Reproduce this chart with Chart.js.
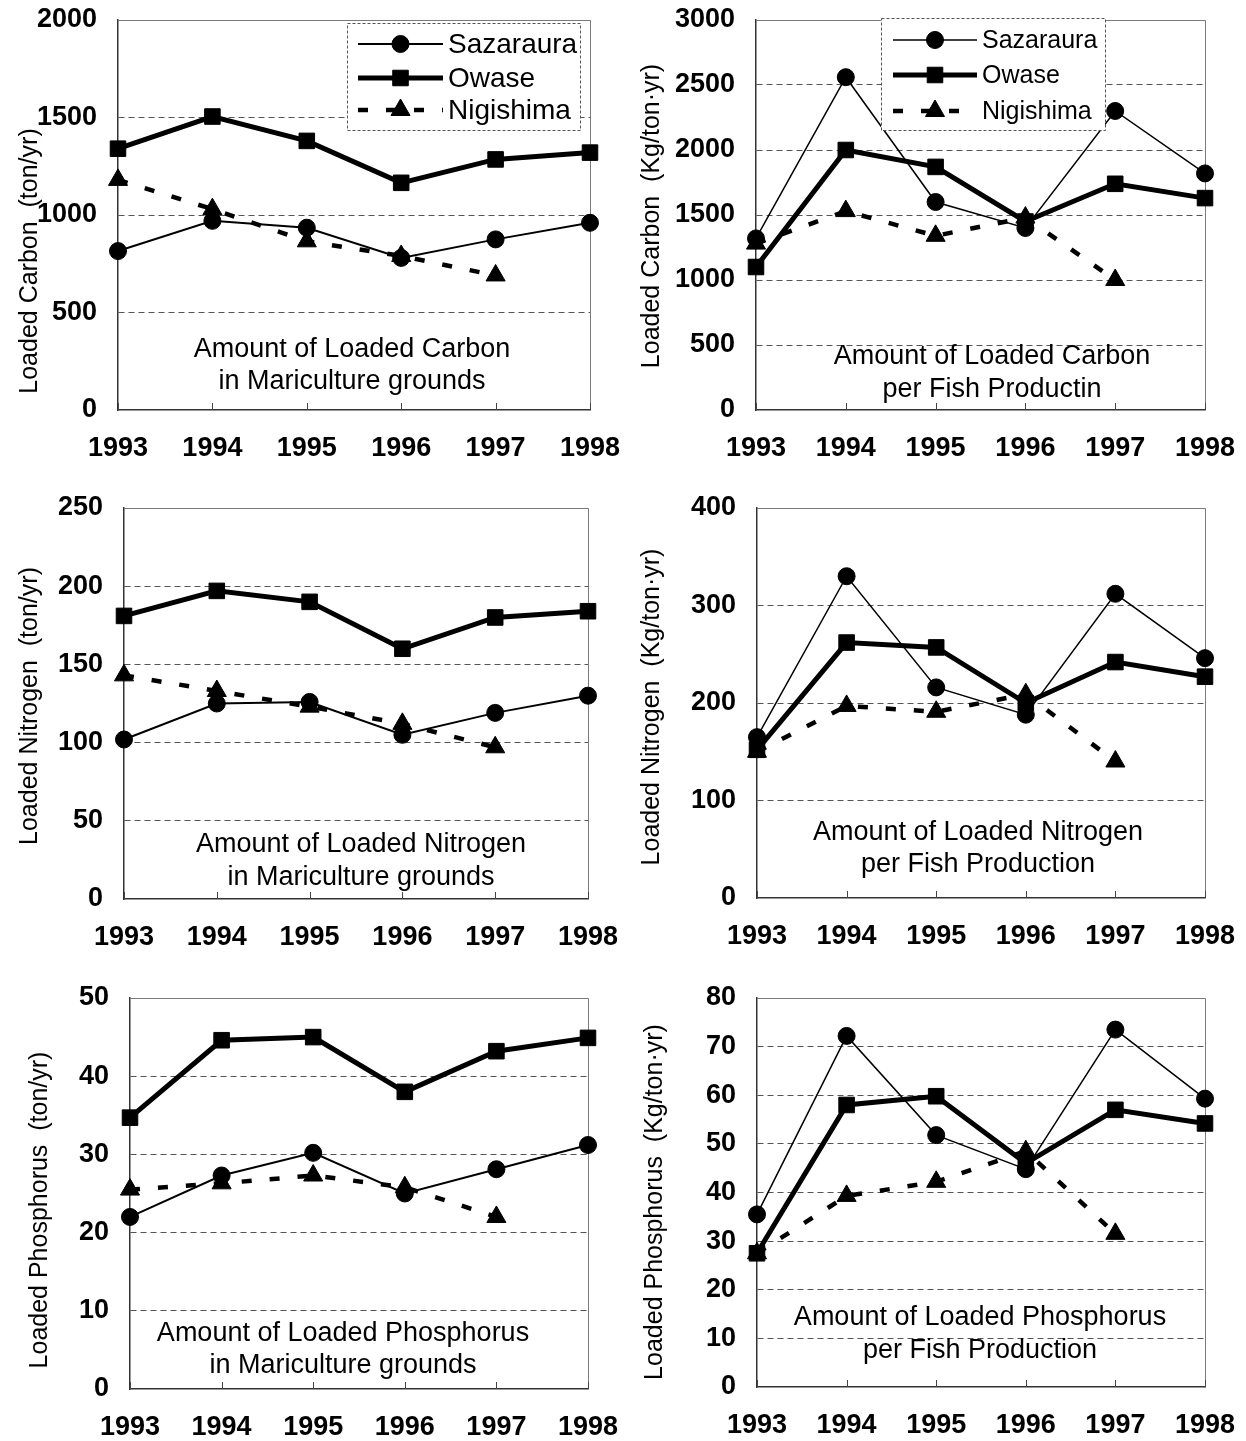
<!DOCTYPE html>
<html>
<head>
<meta charset="utf-8">
<script src="https://cdn.jsdelivr.net/npm/chart.js@4.4.1/dist/chart.umd.min.js"></script>
<style>
  html, body { margin: 0; padding: 0; background: #fff; }
  body { width: 1246px; height: 1441px; position: relative; overflow: hidden; }
  .panel { position: absolute; }
  .panel canvas { display: block; }
</style>
</head>
<body>
<div class="panel" style="left:0;top:0"><canvas id="c1" width="620" height="470"></canvas></div>
<div class="panel" style="left:620px;top:0"><canvas id="c2" width="626" height="470"></canvas></div>
<div class="panel" style="left:0;top:490px"><canvas id="c3" width="620" height="470"></canvas></div>
<div class="panel" style="left:620px;top:490px"><canvas id="c4" width="626" height="470"></canvas></div>
<div class="panel" style="left:0;top:980px"><canvas id="c5" width="620" height="461"></canvas></div>
<div class="panel" style="left:620px;top:980px"><canvas id="c6" width="626" height="461"></canvas></div>
<script>
// ---- data ----
const years = ['1993', '1994', '1995', '1996', '1997', '1998'];
const seriesNames = ['Sazaraura', 'Owase', 'Nigishima'];

// Loaded carbon in mariculture grounds (ton/yr)
const carbonSazaraura = [815, 970, 935, 780, 875, 960];
const carbonOwase = [1340, 1505, 1380, 1165, 1285, 1320];
const carbonNigishima = [1180, 1030, 865, 790, 690, null];

// Loaded carbon per fish production (Kg/ton·yr)
const carbonPerFishSazaraura = [1320, 2560, 1600, 1400, 2300, 1820];
const carbonPerFishOwase = [1100, 2000, 1870, 1450, 1740, 1630];
const carbonPerFishNigishima = [1280, 1530, 1340, 1480, 1000, null];

// Loaded nitrogen in mariculture grounds (ton/yr)
const nitrogenSazaraura = [102, 125, 126, 105, 119, 130];
const nitrogenOwase = [181, 197, 190, 160, 180, 184];
const nitrogenNigishima = [143, 133, 123, 112, 97, null];

// Loaded nitrogen per fish production (Kg/ton·yr)
const nitrogenPerFishSazaraura = [165, 330, 216, 188, 312, 246];
const nitrogenPerFishOwase = [152, 262, 257, 200, 242, 227];
const nitrogenPerFishNigishima = [150, 197, 191, 209, 140, null];

// Loaded phosphorus in mariculture grounds (ton/yr)
const phosphorusSazaraura = [22.0, 27.3, 30.2, 25.0, 28.1, 31.2];
const phosphorusOwase = [34.7, 44.6, 45.0, 38.0, 43.2, 44.9];
const phosphorusNigishima = [25.5, 26.3, 27.3, 25.8, 22.0, null];

// Loaded phosphorus per fish production (Kg/ton·yr)
const phosphorusPerFishSazaraura = [35.5, 72.2, 51.8, 44.8, 73.5, 59.3];
const phosphorusPerFishOwase = [27.5, 58.0, 59.8, 46.0, 57.0, 54.2];
const phosphorusPerFishNigishima = [27.5, 39.3, 42.2, 48.5, 31.5, null];

// Axis ranges: [min, max, step]
const carbonAxis = [0, 2000, 500];
const carbonPerFishAxis = [0, 3000, 500];
const nitrogenAxis = [0, 250, 50];
const nitrogenPerFishAxis = [0, 400, 100];
const phosphorusAxis = [0, 50, 10];
const phosphorusPerFishAxis = [0, 80, 10];

// ---- styles ----
const SANS = "'Liberation Sans', Arial, sans-serif";
const tickFont = { family: SANS, size: 27, weight: 'bold', lineHeight: 1.2 };

function makeDatasets(saz, owa, nig, thinLine) {
  return [
    {
      label: seriesNames[0], data: saz,
      borderColor: '#000', backgroundColor: '#000',
      borderWidth: thinLine, pointStyle: 'circle', pointRadius: 8.5,
      pointBorderWidth: 1, pointBackgroundColor: '#000', pointBorderColor: '#000'
    },
    {
      label: seriesNames[1], data: owa,
      borderColor: '#000', backgroundColor: '#000',
      borderWidth: 5, pointStyle: 'rect', pointRadius: 11,
      pointBorderWidth: 1, pointBackgroundColor: '#000', pointBorderColor: '#000'
    },
    {
      label: seriesNames[2], data: nig,
      borderColor: '#000', backgroundColor: '#000',
      borderWidth: 4.5, borderDash: [10, 18], pointStyle: 'triangle', pointRadius: 11,
      pointBorderWidth: 1, pointBackgroundColor: '#000', pointBorderColor: '#000'
    }
  ].map(d => Object.assign(d, { clip: false, spanGaps: false, tension: 0 }));
}

// Frame, inner category ticks, caption, rotated axis title and in-plot legend
const panelDecor = {
  id: 'panelDecor',
  beforeDatasetsDraw(chart, args, opts) {
    const { ctx, chartArea: a } = chart;
    ctx.save();
    ctx.strokeStyle = '#7a7a7a';
    ctx.lineWidth = 1;
    ctx.beginPath();
    ctx.moveTo(a.left, Math.round(a.top) + 0.5);
    ctx.lineTo(Math.round(a.right) + 0.5, Math.round(a.top) + 0.5);
    ctx.lineTo(Math.round(a.right) + 0.5, a.bottom);
    ctx.stroke();
    const xs = chart.scales.x;
    ctx.strokeStyle = '#444';
    ctx.beginPath();
    xs.ticks.forEach((t, i) => {
      const x = Math.round(xs.getPixelForTick(i)) + 0.5;
      ctx.moveTo(x, a.bottom);
      ctx.lineTo(x, a.bottom - 7);
    });
    ctx.stroke();
    ctx.restore();
  },
  afterDraw(chart, args, opts) {
    const { ctx } = chart;
    ctx.save();
    ctx.fillStyle = '#000';
    // caption inside the plot
    ctx.font = `${opts.captionSize}px ${SANS}`;
    ctx.textAlign = 'center';
    ctx.textBaseline = 'middle';
    opts.caption.forEach((line, i) => {
      ctx.fillText(line, opts.captionX, opts.captionY + i * opts.captionGap);
    });
    // y axis title
    ctx.save();
    ctx.translate(opts.titleX, opts.titleY);
    ctx.rotate(-Math.PI / 2);
    ctx.font = `25px ${SANS}`;
    ctx.fillText(opts.title, 0, 0);
    ctx.restore();
    // legend box
    if (opts.legend) {
      const L = opts.legend;
      ctx.fillStyle = '#fff';
      ctx.fillRect(L.x, L.y, L.w, L.h);
      ctx.strokeStyle = '#555';
      ctx.lineWidth = 1;
      ctx.setLineDash([3, 2]);
      ctx.strokeRect(L.x + 0.5, L.y + 0.5, L.w, L.h);
      ctx.setLineDash([]);
      chart.data.datasets.forEach((ds, i) => {
        const y = L.rows[i];
        ctx.strokeStyle = '#000';
        ctx.lineWidth = ds.borderWidth;
        ctx.setLineDash(ds.borderDash || []);
        ctx.beginPath();
        ctx.moveTo(L.lineX0, y);
        ctx.lineTo(L.lineX1, y);
        ctx.stroke();
        ctx.setLineDash([]);
        ctx.fillStyle = '#000';
        ctx.lineWidth = 1;
        Chart.helpers.drawPoint(ctx, {
          pointStyle: ds.pointStyle, radius: ds.pointRadius, rotation: 0, borderWidth: 1
        }, (L.lineX0 + L.lineX1) / 2, y);
        ctx.fillStyle = '#000';
        ctx.font = `${L.size}px ${SANS}`;
        ctx.textAlign = 'left';
        ctx.textBaseline = 'middle';
        ctx.fillText(ds.label, L.textX, y + 1);
      });
    }
    ctx.restore();
  }
};

function makeChart(id, p) {
  const [min, max, step] = p.axis;
  const cv = document.getElementById(id);
  const W = cv.width, H = cv.height;
  return new Chart(cv, {
    type: 'line',
    data: { labels: years, datasets: makeDatasets(p.saz, p.owa, p.nig, p.thin) },
    plugins: [panelDecor],
    options: {
      responsive: false,
      animation: false,
      devicePixelRatio: 1,
      layout: { padding: { top: p.area.top, right: W - p.area.right, left: 0, bottom: 0 } },
      scales: {
        x: {
          type: 'category',
          offset: false,
          afterFit(s) { s.height = H - p.area.bottom; s.paddingLeft = 0; s.paddingRight = 0; },
          ticks: { padding: 22, color: '#000', font: tickFont, maxRotation: 0, autoSkip: false },
          grid: { display: false, drawTicks: false },
          border: { display: true, color: '#333', width: 1.5 }
        },
        y: {
          min, max,
          afterFit(s) { s.width = p.area.left; s.paddingTop = 0; s.paddingBottom = 0; },
          ticks: { stepSize: step, padding: 21, color: '#000', font: tickFont, callback: v => String(v) },
          grid: {
            drawTicks: false,
            lineWidth: 1,
            color: c => (c.tick && (c.tick.value === min || c.tick.value === max)) ? 'rgba(0,0,0,0)' : '#555'
          },
          border: { display: true, color: '#333', width: 1.5, dash: [6, 4] }
        }
      },
      plugins: {
        legend: { display: false },
        tooltip: { enabled: false },
        panelDecor: p.decor
      }
    }
  });
}

makeChart('c1', {
  axis: carbonAxis, saz: carbonSazaraura, owa: carbonOwase, nig: carbonNigishima, thin: 2,
  area: { left: 118, top: 20, right: 590, bottom: 410 },
  decor: {
    title: 'Loaded Carbon  (ton/yr)', titleX: 30, titleY: 261,
    caption: ['Amount of Loaded Carbon', 'in Mariculture grounds'],
    captionX: 352, captionY: 350, captionGap: 32, captionSize: 27,
    legend: { x: 347, y: 23, w: 233, h: 107, rows: [44, 78, 110], lineX0: 358, lineX1: 443, textX: 448, size: 28 }
  }
});

makeChart('c2', {
  axis: carbonPerFishAxis, saz: carbonPerFishSazaraura, owa: carbonPerFishOwase, nig: carbonPerFishNigishima, thin: 1.5,
  area: { left: 136, top: 20, right: 585, bottom: 410 },
  decor: {
    title: 'Loaded Carbon  (Kg/ton·yr)', titleX: 32, titleY: 216,
    caption: ['Amount of Loaded Carbon', 'per Fish Productin'],
    captionX: 372, captionY: 357, captionGap: 33, captionSize: 27,
    legend: { x: 261, y: 18, w: 224, h: 112, rows: [40, 75, 111], lineX0: 273, lineX1: 357, textX: 362, size: 25 }
  }
});

makeChart('c3', {
  axis: nitrogenAxis, saz: nitrogenSazaraura, owa: nitrogenOwase, nig: nitrogenNigishima, thin: 2,
  area: { left: 124, top: 18, right: 588, bottom: 409 },
  decor: {
    title: 'Loaded Nitrogen  (ton/yr)', titleX: 30, titleY: 216,
    caption: ['Amount of Loaded Nitrogen', 'in Mariculture grounds'],
    captionX: 361, captionY: 355, captionGap: 33, captionSize: 27
  }
});

makeChart('c4', {
  axis: nitrogenPerFishAxis, saz: nitrogenPerFishSazaraura, owa: nitrogenPerFishOwase, nig: nitrogenPerFishNigishima, thin: 1.5,
  area: { left: 137, top: 18, right: 585, bottom: 408 },
  decor: {
    title: 'Loaded Nitrogen  (Kg/ton·yr)', titleX: 32, titleY: 217,
    caption: ['Amount of Loaded Nitrogen', 'per Fish Production'],
    captionX: 358, captionY: 343, captionGap: 32, captionSize: 27
  }
});

makeChart('c5', {
  axis: phosphorusAxis, saz: phosphorusSazaraura, owa: phosphorusOwase, nig: phosphorusNigishima, thin: 2,
  area: { left: 130, top: 18, right: 588, bottom: 409 },
  decor: {
    title: 'Loaded Phosphorus  (ton/yr)', titleX: 40, titleY: 230,
    caption: ['Amount of Loaded Phosphorus', 'in Mariculture grounds'],
    captionX: 343, captionY: 354, captionGap: 32, captionSize: 27
  }
});

makeChart('c6', {
  axis: phosphorusPerFishAxis, saz: phosphorusPerFishSazaraura, owa: phosphorusPerFishOwase, nig: phosphorusPerFishNigishima, thin: 1.5,
  area: { left: 137, top: 18, right: 585, bottom: 407 },
  decor: {
    title: 'Loaded Phosphorus  (Kg/ton·yr)', titleX: 35, titleY: 222,
    caption: ['Amount of Loaded Phosphorus', 'per Fish Production'],
    captionX: 360, captionY: 338, captionGap: 33, captionSize: 27
  }
});
</script>
</body>
</html>
